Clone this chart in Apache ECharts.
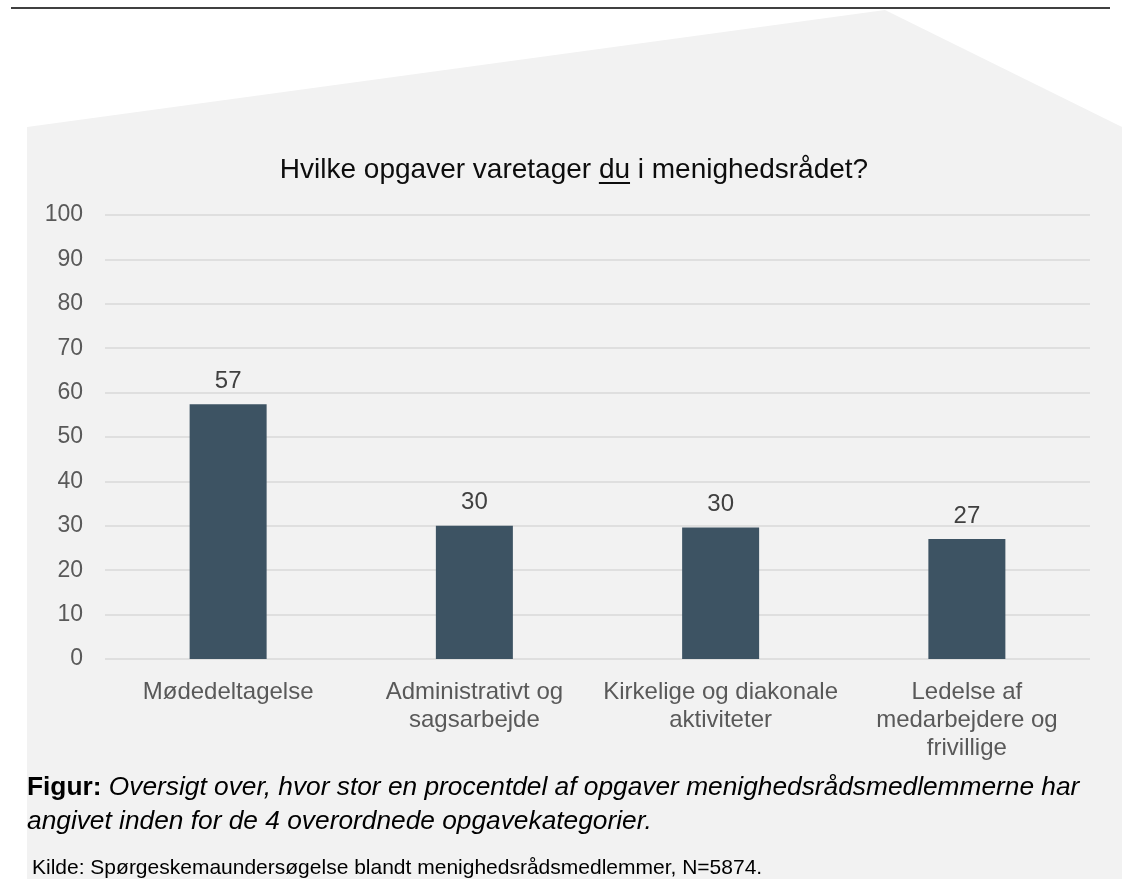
<!DOCTYPE html>
<html>
<head>
<meta charset="utf-8">
<script src="https://cdn.jsdelivr.net/npm/echarts@6/dist/echarts.min.js"></script>
<style>
    html, body { margin: 0; padding: 0; background: #ffffff; }
    #div_chart { width: 1122px; height: 879px; }
</style>
</head>
<body>
<div id="div_chart"></div>
<script>
// data
var categories = ['Mødedeltagelse', 'Administrativt og\nsagsarbejde', 'Kirkelige og diakonale\naktiviteter', 'Ledelse af\nmedarbejdere og\nfrivillige'];
var values = [57.4, 30.0, 29.6, 27.0];
var yMin = 0, yMax = 100, yStep = 10;

// texts
var titleParts = ['Hvilke opgaver varetager ', 'du', ' i menighedsrådet?'];
var captionLead = 'Figur:';
var captionLines = ['Oversigt over, hvor stor en procentdel af opgaver menighedsrådsmedlemmerne har', 'angivet inden for de 4 overordnede opgavekategorier.'];
var sourceText = 'Kilde: Spørgeskemaundersøgelse blandt menighedsrådsmedlemmer, N=5874.';

var FONT = '"Liberation Sans", Arial, sans-serif';

// measure title pieces so the underline sits under "du"
var ctx = document.createElement('canvas').getContext('2d');
ctx.font = '28px ' + FONT;
var w = titleParts.map(function (t) { return ctx.measureText(t).width; });
var titleCx = 574;
var titleX = titleCx - (w[0] + w[1] + w[2]) / 2;
var titleY = 170;

var myChart = echarts.init(document.getElementById('div_chart'));
var option = {
    backgroundColor: '#ffffff',
    animation: false,
    textStyle: { fontFamily: FONT },
    graphic: [
        // grey panel behind the chart
        {
            type: 'polygon', z: -10, silent: true,
            shape: { points: [[27, 127], [885, 10], [1122, 127], [1122, 879], [27, 879]] },
            style: { fill: '#f2f2f2' }
        },
        // rule at the top
        {
            type: 'line', z: -5, silent: true,
            shape: { x1: 11, y1: 8, x2: 1110, y2: 8 },
            style: { stroke: '#000000', lineWidth: 1.5 }
        },
        // title
        {
            type: 'text', x: titleX, y: titleY,
            style: {
                text: titleParts.join(''), font: '28px ' + FONT, fill: '#0d0d0d',
                textAlign: 'left', textVerticalAlign: 'middle'
            }
        },
        {
            type: 'line', silent: true,
            shape: { x1: titleX + w[0], y1: 183, x2: titleX + w[0] + w[1], y2: 183 },
            style: { stroke: '#0d0d0d', lineWidth: 2 }
        },
        // caption
        {
            type: 'text', x: 27, y: 771,
            style: {
                text: '{b|' + captionLead + '\u00a0}{i|' + captionLines[0] + '}\n{i|' + captionLines[1] + '}',
                rich: {
                    b: { fontSize: 26.3, fontWeight: 'bold', fill: '#000000', fontFamily: FONT, lineHeight: 34 },
                    i: { fontSize: 26.3, fontStyle: 'italic', fill: '#000000', fontFamily: FONT, lineHeight: 34 }
                }
            }
        },
        // source
        {
            type: 'text', x: 32, y: 858,
            style: { text: sourceText, font: '21px ' + FONT, fill: '#000000' }
        }
    ],
    grid: { left: 105, right: 32, top: 215, bottom: 220 },
    xAxis: {
        type: 'category',
        data: categories,
        axisLine: { show: false },
        axisTick: { show: false },
        axisLabel: { color: '#595959', fontSize: 24, lineHeight: 28, margin: 19, interval: 0 }
    },
    yAxis: {
        type: 'value',
        min: yMin, max: yMax, interval: yStep,
        axisLine: { show: false },
        axisTick: { show: false },
        axisLabel: { color: '#595959', fontSize: 23, margin: 22, padding: [3, 0, 0, 0] },
        splitLine: { lineStyle: { color: '#d9d9d9', width: 1.5 } }
    },
    series: [{
        type: 'bar',
        data: values,
        barWidth: 77,
        itemStyle: { color: '#3d5363' },
        label: {
            show: true, position: 'top', distance: 11,
            fontSize: 24, color: '#404040',
            formatter: function (p) { return Math.round(p.value); }
        }
    }]
};
myChart.setOption(option);
</script>
</body>
</html>
